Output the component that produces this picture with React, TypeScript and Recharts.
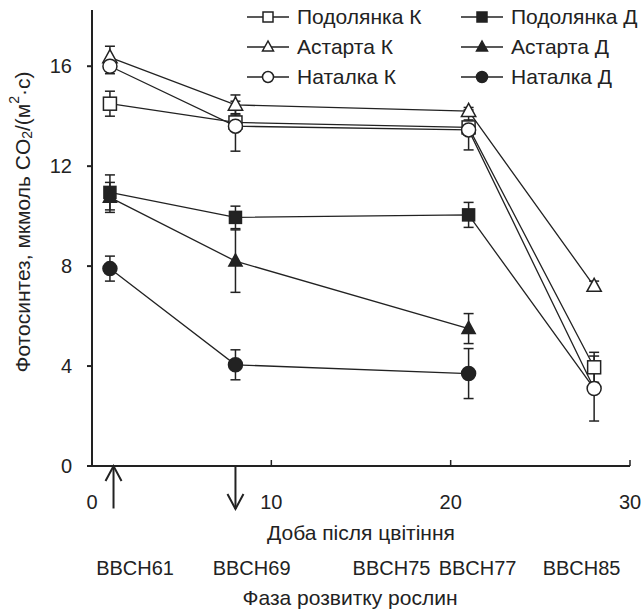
import React from "react";
import { ComposedChart, Line, XAxis, YAxis, ErrorBar, ReferenceLine, Legend } from "recharts";

const INK = "#222";
const FONT = "'Liberation Sans', Arial, sans-serif";

// days after flowering where measurements were taken
const DAYS = [1, 8, 21, 28];
const DAYS_SHORT = [1, 8, 21];

const PODOLYANKA_K = [14.5, 13.75, 13.55, 3.95];
const PODOLYANKA_K_ERR = [0.5, 0.35, 0.3, 0.6];
const ASTARTA_K = [16.35, 14.45, 14.2, 7.2];
const ASTARTA_K_ERR = [0.45, 0.4, 0.15, 0.2];
const NATALKA_K = [16.0, 13.6, 13.45, 3.1];
const NATALKA_K_ERR = [0.3, 1.0, 0.8, 1.3];

const PODOLYANKA_D = [10.95, 9.95, 10.05, 3.1];
const PODOLYANKA_D_ERR = [0.7, 0.45, 0.5, 0];
const ASTARTA_D = [10.75, 8.2, 5.5];
const ASTARTA_D_ERR = [0.6, 1.25, 0.6];
const NATALKA_D = [7.9, 4.05, 3.7];
const NATALKA_D_ERR = [0.5, 0.6, 1.0];

const Y_TICKS = [0, 4, 8, 12, 16];
const X_TICKS = [0, 10, 20, 30];
const PHASE_POS = [2.4, 8.9, 16.7, 21.5, 27.3];
const PHASE_LABELS = ["BBCH61", "BBCH69", "BBCH75", "BBCH77", "BBCH85"];
const ARROW_UP_DAY = 1.2;
const ARROW_DOWN_DAY = 8;

type Shape = "square" | "triangle" | "circle";

const pts = (x: number[], y: number[], e: number[]) =>
  x.map((d, i) => ({ day: d, v: y[i], e: e[i] }));

const SERIES = [
  { key: "podD", name: "Подолянка Д", data: pts(DAYS, PODOLYANKA_D, PODOLYANKA_D_ERR), shape: "square" as Shape, filled: true, hideFrom: 3 },
  { key: "astD", name: "Астарта Д", data: pts(DAYS_SHORT, ASTARTA_D, ASTARTA_D_ERR), shape: "triangle" as Shape, filled: true },
  { key: "natD", name: "Наталка Д", data: pts(DAYS_SHORT, NATALKA_D, NATALKA_D_ERR), shape: "circle" as Shape, filled: true },
  { key: "podK", name: "Подолянка К", data: pts(DAYS, PODOLYANKA_K, PODOLYANKA_K_ERR), shape: "square" as Shape, filled: false },
  { key: "astK", name: "Астарта К", data: pts(DAYS, ASTARTA_K, ASTARTA_K_ERR), shape: "triangle" as Shape, filled: false },
  { key: "natK", name: "Наталка К", data: pts(DAYS, NATALKA_K, NATALKA_K_ERR), shape: "circle" as Shape, filled: false },
];

const LEGEND_ORDER = ["podK", "podD", "astK", "astD", "natK", "natD"];

function Marker({ cx, cy, shape, filled, size }: { cx: number; cy: number; shape: Shape; filled: boolean; size: number }) {
  const fill = filled ? INK : "#fff";
  if (shape === "square")
    return <rect x={cx - size / 2} y={cy - size / 2} width={size} height={size} fill={fill} stroke={INK} strokeWidth={1.5} />;
  if (shape === "circle")
    return <circle cx={cx} cy={cy} r={size / 2} fill={fill} stroke={INK} strokeWidth={1.5} />;
  const w = size * 1.1;
  const h = size;
  return (
    <polygon
      points={`${cx},${cy - h * 0.6} ${cx - w / 2},${cy + h * 0.4} ${cx + w / 2},${cy + h * 0.4}`}
      fill={fill}
      stroke={INK}
      strokeWidth={1.5}
    />
  );
}

function LegendBox() {
  return (
    <div style={{ display: "grid", gridTemplateColumns: "214px 190px", fontFamily: FONT, fontSize: 21, color: INK }}>
      {LEGEND_ORDER.map((k) => {
        const s = SERIES.find((x) => x.key === k)!;
        return (
          <div key={k} style={{ display: "flex", alignItems: "center", height: 30 }}>
            <svg width={46} height={20} style={{ flex: "none" }}>
              <line x1={2} x2={44} y1={10} y2={10} stroke={INK} strokeWidth={1.5} />
              <Marker cx={23} cy={10} shape={s.shape} filled={s.filled} size={s.shape === "circle" ? 11 : 10} />
            </svg>
            <span style={{ marginLeft: 6, whiteSpace: "nowrap" }}>{s.name}</span>
          </div>
        );
      })}
    </div>
  );
}

// eslint-disable-next-line @typescript-eslint/no-explicit-any
function DayTick({ x, y, payload }: any) {
  return (
    <g>
      <line x1={x} x2={x} y1={y} y2={y - 6} stroke={INK} strokeWidth={1.5} />
      <text x={x} y={y + 43} textAnchor="middle" fontSize={20} fill={INK} fontFamily={FONT}>
        {payload.value}
      </text>
    </g>
  );
}

// eslint-disable-next-line @typescript-eslint/no-explicit-any
function PhaseTick({ x, y, payload }: any) {
  const i = PHASE_POS.indexOf(payload.value);
  return (
    <text x={x} y={y + 29} textAnchor="middle" fontSize={20} fill={INK} fontFamily={FONT}>
      {PHASE_LABELS[i]}
    </text>
  );
}

// eslint-disable-next-line @typescript-eslint/no-explicit-any
const arrowShape = (p: any) => {
  const { x1, y1, x2, y2 } = p;
  const dir = y2 < y1 ? 1 : -1; // head points up when 1
  return (
    <g stroke={INK} strokeWidth={2} fill="none">
      <line x1={x1} y1={y1} x2={x2} y2={y2} />
      <polyline points={`${x2 - 8},${y2 + dir * 15} ${x2},${y2} ${x2 + 8},${y2 + dir * 15}`} />
    </g>
  );
};

export default function App() {
  return (
    <div style={{ position: "absolute", left: 0, top: 0, background: "#fff" }}>
      <ComposedChart width={642} height={612} margin={{ top: 10, right: 12, bottom: 0, left: 0 }}>
        <XAxis
          xAxisId="day"
          type="number"
          dataKey="day"
          domain={[0, 30]}
          allowDataOverflow
          ticks={X_TICKS}
          interval={0}
          height={80}
          tickSize={0}
          tickMargin={0}
          tickLine={false}
          axisLine={{ stroke: INK, strokeWidth: 2 }}
          tick={<DayTick />}
          label={({ viewBox }: any) => (
            <text x={viewBox.x + viewBox.width / 2} y={viewBox.y + 74} textAnchor="middle" fontSize={21} fill={INK} fontFamily={FONT}>
              Доба після цвітіння
            </text>
          )}
        />
        <XAxis
          xAxisId="phase"
          type="number"
          dataKey="day"
          domain={[0, 30]}
          allowDataOverflow
          ticks={PHASE_POS}
          interval={0}
          height={66}
          tickSize={0}
          tickMargin={0}
          tickLine={false}
          axisLine={false}
          tick={<PhaseTick />}
          label={({ viewBox }: any) => (
            <text x={viewBox.x + viewBox.width / 2 - 11} y={viewBox.y + 59} textAnchor="middle" fontSize={21} fill={INK} fontFamily={FONT}>
              Фаза розвитку рослин
            </text>
          )}
        />
        <YAxis
          type="number"
          domain={[0, 18.25]}
          ticks={Y_TICKS}
          width={92}
          tickSize={5}
          tickMargin={15}
          tickLine={{ stroke: INK, strokeWidth: 2 }}
          axisLine={{ stroke: INK, strokeWidth: 2 }}
          tick={{ fill: INK, fontSize: 20, fontFamily: FONT }}
          label={({ viewBox }: any) => {
            const cx = viewBox.x + 22;
            const cy = viewBox.y + viewBox.height / 2 - 16;
            return (
              <text x={cx} y={cy} transform={`rotate(-90, ${cx}, ${cy})`} textAnchor="middle" dominantBaseline="central" fontSize={21} fill={INK} fontFamily={FONT}>
                Фотосинтез, мкмоль CO
                <tspan dy={5} fontSize={14}>2</tspan>
                <tspan dy={-5}>/(м</tspan>
                <tspan dy={-8} fontSize={14}>2</tspan>
                <tspan dy={8}>·с)</tspan>
              </text>
            );
          }}
        />
        <Legend layout="horizontal" verticalAlign="middle" align="center" content={() => <LegendBox />} wrapperStyle={{ top: 2, left: 245, width: 410 }} />

        {SERIES.map((s) => (
          <Line
            key={s.key}
            xAxisId="day"
            data={s.data}
            dataKey="v"
            name={s.name}
            stroke={INK}
            strokeWidth={1.3}
            isAnimationActive={false}
            dot={(p: any) =>
              s.hideFrom !== undefined && p.index >= s.hideFrom ? (
                <g key={p.index} />
              ) : (
                <Marker key={p.index} cx={p.cx} cy={p.cy} shape={s.shape} filled={s.filled} size={s.shape === "circle" ? 14 : s.filled ? 12 : 13} />
              )
            }
            activeDot={false}
          >
            <ErrorBar dataKey="e" width={5} stroke={INK} strokeWidth={1.5} direction="y" isAnimationActive={false} />
          </Line>
        ))}

        <ReferenceLine xAxisId="day" ifOverflow="visible" segment={[{ x: ARROW_UP_DAY, y: -1.7 }, { x: ARROW_UP_DAY, y: 0 }]} shape={arrowShape} />
        <ReferenceLine xAxisId="day" ifOverflow="visible" segment={[{ x: ARROW_DOWN_DAY, y: 0 }, { x: ARROW_DOWN_DAY, y: -1.72 }]} shape={arrowShape} />
      </ComposedChart>
    </div>
  );
}
